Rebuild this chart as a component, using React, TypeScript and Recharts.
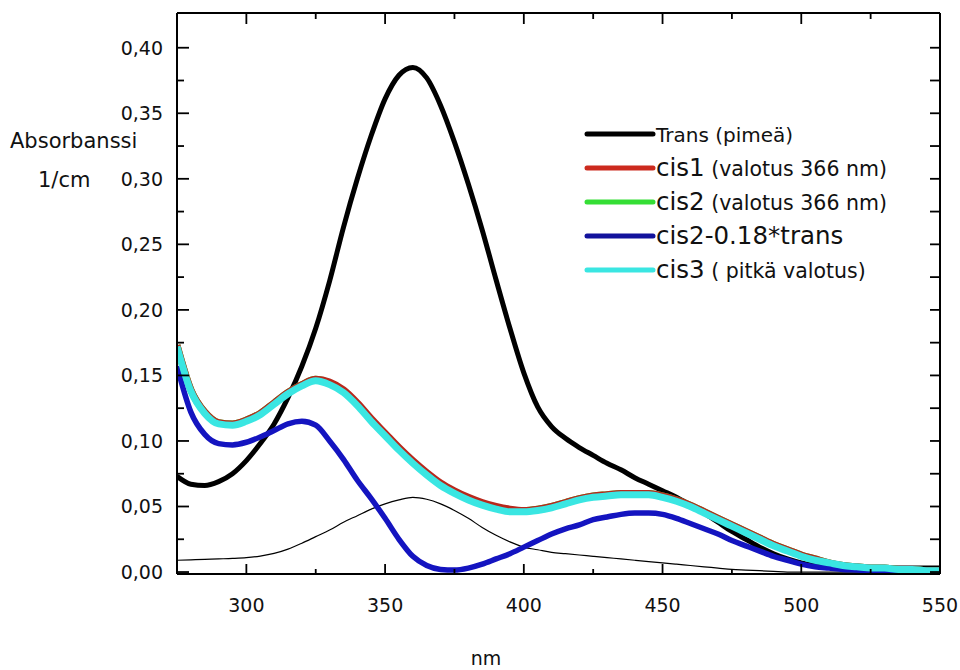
import React from 'react';
import { LineChart, Line, XAxis, YAxis, Legend } from 'recharts';

// wavelength grid (nm)
const wavelengths = [
  275, 280, 285, 290, 295, 300, 305, 310, 315, 320,
  325, 330, 335, 340, 345, 350, 355, 360, 365, 370,
  375, 380, 385, 390, 395, 400, 405, 410, 415, 420,
  425, 430, 435, 440, 445, 450, 455, 460, 465, 470,
  475, 480, 485, 490, 495, 500, 505, 510, 515, 520,
  525, 530, 535, 540, 545, 550,
];

const trans = [
  0.073, 0.067, 0.066, 0.069, 0.075, 0.085, 0.098, 0.113, 0.133, 0.157,
  0.186, 0.222, 0.263, 0.300, 0.333, 0.361, 0.379, 0.385, 0.377, 0.356,
  0.328, 0.296, 0.261, 0.223, 0.186, 0.152, 0.126, 0.111, 0.102, 0.095,
  0.089, 0.083, 0.078, 0.072, 0.067, 0.062, 0.057, 0.051, 0.045, 0.038,
  0.031, 0.025, 0.019, 0.014, 0.010, 0.007, 0.005, 0.004, 0.003, 0.003,
  0.003, 0.003, 0.003, 0.003, 0.003, 0.003,
];

const cis1 = [
  0.173, 0.139, 0.122, 0.114, 0.113, 0.116, 0.121, 0.129, 0.137, 0.143,
  0.147, 0.145, 0.139, 0.129, 0.117, 0.106, 0.095, 0.085, 0.076, 0.068,
  0.062, 0.057, 0.053, 0.050, 0.048, 0.047, 0.048, 0.050, 0.053, 0.056,
  0.058, 0.059, 0.060, 0.060, 0.060, 0.058, 0.055, 0.051, 0.046, 0.041,
  0.036, 0.031, 0.026, 0.021, 0.017, 0.013, 0.010, 0.007, 0.005, 0.004,
  0.003, 0.003, 0.002, 0.002, 0.001, 0.001,
];

const cis2 = [
  0.173, 0.139, 0.122, 0.114, 0.113, 0.116, 0.121, 0.129, 0.137, 0.143,
  0.147, 0.144, 0.138, 0.128, 0.116, 0.105, 0.094, 0.084, 0.075, 0.067,
  0.061, 0.056, 0.052, 0.049, 0.047, 0.047, 0.048, 0.050, 0.053, 0.056,
  0.058, 0.059, 0.060, 0.060, 0.060, 0.058, 0.055, 0.051, 0.046, 0.041,
  0.036, 0.031, 0.026, 0.021, 0.017, 0.013, 0.010, 0.007, 0.005, 0.004,
  0.003, 0.003, 0.002, 0.002, 0.001, 0.001,
];

const cis2MinusTrans = [
  0.157, 0.122, 0.105, 0.098, 0.097, 0.099, 0.103, 0.108, 0.113, 0.115,
  0.112, 0.100, 0.086, 0.070, 0.056, 0.041, 0.025, 0.012, 0.005, 0.002,
  0.0015, 0.003, 0.006, 0.010, 0.014, 0.019, 0.024, 0.029, 0.033, 0.036,
  0.040, 0.042, 0.044, 0.045, 0.045, 0.044, 0.041, 0.037, 0.033, 0.029,
  0.024, 0.020, 0.016, 0.012, 0.009, 0.006, 0.004, 0.003, 0.002, 0.0015,
  0.001, 0.001, 0.001, 0.001, 0.001, 0.001,
];

const cis3 = [
  0.172, 0.138, 0.121, 0.113, 0.112, 0.115, 0.120, 0.128, 0.136, 0.142,
  0.146, 0.143, 0.137, 0.127, 0.115, 0.104, 0.093, 0.083, 0.074, 0.066,
  0.060, 0.055, 0.051, 0.048, 0.046, 0.046, 0.047, 0.049, 0.052, 0.055,
  0.057, 0.058, 0.059, 0.059, 0.059, 0.057, 0.054, 0.050, 0.045, 0.040,
  0.035, 0.030, 0.025, 0.020, 0.016, 0.012, 0.009, 0.007, 0.005, 0.004,
  0.003, 0.003, 0.002, 0.002, 0.001, 0.001,
];

// thin unlabeled curve
const transScaled = [
  0.009, 0.0093, 0.0096, 0.0100, 0.0104, 0.0110, 0.0122, 0.0142, 0.0175, 0.022,
  0.027, 0.032, 0.038, 0.043, 0.048, 0.052, 0.055, 0.057, 0.0555, 0.052,
  0.047, 0.041, 0.034, 0.028, 0.023, 0.019, 0.017, 0.015, 0.014, 0.013,
  0.012, 0.011, 0.010, 0.009, 0.008, 0.007, 0.006, 0.005, 0.004, 0.003,
  0.002, 0.0015, 0.001, 0.0005, 0, 0, 0, 0, 0, 0,
  0, 0, 0, 0, 0, 0,
];

const xTicks = [275, 300, 325, 350, 375, 400, 425, 450, 475, 500, 525, 550];
const yTicks = [
  0, 0.025, 0.05, 0.075, 0.1, 0.125, 0.15, 0.175, 0.2, 0.225,
  0.25, 0.275, 0.3, 0.325, 0.35, 0.375, 0.4,
];

const legendNames = ['Trans (pimeä)', 'cis1', 'cis2', 'cis2-0.18*trans', 'cis3'];
const legendNotes = ['', ' (valotus 366 nm)', ' (valotus 366 nm)', '', ' ( pitkä valotus)'];
const legendColors = ['#000000', '#cc2a1e', '#35de35', '#12129c', '#3ae6e2'];

const data = wavelengths.map((nm, i) => ({
  nm,
  trans: trans[i],
  cis1: cis1[i],
  cis2: cis2[i],
  cis2MinusTrans: cis2MinusTrans[i],
  cis3: cis3[i],
  transScaled: transScaled[i],
}));

const FONT = '"DejaVu Sans", Verdana, sans-serif';

const isMajorX = (v: number) => v % 50 === 0;
const isMajorY = (v: number) => Math.round(v * 1000) % 50 === 0;

const BottomTick = ({ x, y, payload }: any) => {
  const major = isMajorX(payload.value);
  return (
    <g>
      <line x1={x} y1={y} x2={x} y2={y - (major ? 10 : 5)} stroke="#000" strokeWidth={1.8} />
      {major && payload.value !== 275 && (
        <text x={x} y={y + 38} textAnchor="middle" fontSize={19} fontFamily={FONT} fill="#111">
          {payload.value}
        </text>
      )}
    </g>
  );
};

const TopTick = ({ x, y, payload }: any) => (
  <line x1={x} y1={y} x2={x} y2={y + (isMajorX(payload.value) ? 11 : 6)} stroke="#000" strokeWidth={1.8} />
);

const LeftTick = ({ x, y, payload }: any) => {
  const major = isMajorY(payload.value);
  return (
    <g>
      <line x1={x} y1={y} x2={x + (major ? 12 : 7)} y2={y} stroke="#000" strokeWidth={1.8} />
      {major && (
        <text x={x - 14} y={y + 7} textAnchor="end" fontSize={19} fontFamily={FONT} fill="#111">
          {payload.value.toFixed(2).replace('.', ',')}
        </text>
      )}
    </g>
  );
};

const RightTick = ({ x, y }: any) => (
  <line x1={x} y1={y} x2={x - 10} y2={y} stroke="#000" strokeWidth={1.8} />
);

const YTitle = () => (
  <g fontFamily={FONT} fontSize={21} fill="#111">
    <text x={10} y={148}>Absorbanssi</text>
    <text x={38} y={187}>1/cm</text>
  </g>
);

const XTitle = () => (
  <text x={486} y={665} textAnchor="middle" fontFamily={FONT} fontSize={19} fill="#111">
    nm
  </text>
);

const LegendBox = () => (
  <svg width={340} height={175} style={{ display: 'block', overflow: 'visible' }}>
    {legendNames.map((name, i) => {
      const cy = 16 + i * 34;
      const big = i > 0;
      return (
        <g key={name}>
          <line x1={1} y1={cy} x2={67} y2={cy} stroke={legendColors[i]} strokeWidth={5} strokeLinecap="round" />
          <text x={70} y={cy + 8} fontFamily={FONT} fill="#111" style={{ whiteSpace: 'pre' }}>
            <tspan fontSize={big ? 24.5 : 20}>{name}</tspan>
            {legendNotes[i] && <tspan fontSize={20.5}>{legendNotes[i]}</tspan>}
          </text>
        </g>
      );
    })}
  </svg>
);

export default function App() {
  return (
    <div style={{ position: 'absolute', left: 0, top: 0, width: 960, height: 670, background: '#fff' }}>
      <LineChart
        width={960}
        height={670}
        data={data}
        margin={{ top: 12, right: 19, bottom: 0, left: 0 }}
      >
        <XAxis
          dataKey="nm"
          type="number"
          domain={[275, 550]}
          ticks={xTicks}
          interval={0}
          allowDataOverflow
          height={96}
          tickSize={0}
          tickMargin={0}
          tickLine={false}
          axisLine={{ stroke: '#000', strokeWidth: 2 }}
          tick={<BottomTick />}
          label={<XTitle />}
        />
        <XAxis
          xAxisId="top"
          orientation="top"
          dataKey="nm"
          type="number"
          domain={[275, 550]}
          ticks={xTicks}
          interval={0}
          allowDataOverflow
          height={1}
          tickSize={0}
          tickMargin={0}
          tickLine={false}
          axisLine={{ stroke: '#000', strokeWidth: 2 }}
          tick={<TopTick />}
        />
        <YAxis
          type="number"
          domain={[-0.0015, 0.4265]}
          ticks={yTicks}
          interval={0}
          allowDataOverflow
          width={177}
          tickSize={0}
          tickMargin={0}
          tickLine={false}
          axisLine={{ stroke: '#000', strokeWidth: 2 }}
          tick={<LeftTick />}
          label={<YTitle />}
        />
        <YAxis
          yAxisId="right"
          orientation="right"
          type="number"
          domain={[-0.0015, 0.4265]}
          ticks={yTicks}
          interval={0}
          allowDataOverflow
          width={1}
          tickSize={0}
          tickMargin={0}
          tickLine={false}
          axisLine={{ stroke: '#000', strokeWidth: 2 }}
          tick={<RightTick />}
        />
        <Legend
          layout="horizontal"
          verticalAlign="middle"
          align="center"
          content={() => <LegendBox />}
          wrapperStyle={{ position: 'absolute', left: 586, top: 118, width: 340, height: 175 }}
        />
        <Line dataKey="transScaled" stroke="#000" strokeWidth={1.2} dot={false} type="monotone" isAnimationActive={false} legendType="none" />
        <Line dataKey="trans" stroke="#000" strokeWidth={5} dot={false} type="monotone" isAnimationActive={false} />
        <Line dataKey="cis2" stroke="#35de35" strokeWidth={7} dot={false} type="monotone" isAnimationActive={false} />
        <Line dataKey="cis1" stroke="#b8281c" strokeWidth={7} dot={false} type="monotone" isAnimationActive={false} />
        <Line dataKey="cis2MinusTrans" stroke="#1414c0" strokeWidth={5.5} dot={false} type="monotone" isAnimationActive={false} />
        <Line dataKey="cis3" stroke="#3ae6e2" strokeWidth={7} dot={false} type="monotone" isAnimationActive={false} />
      </LineChart>
    </div>
  );
}
